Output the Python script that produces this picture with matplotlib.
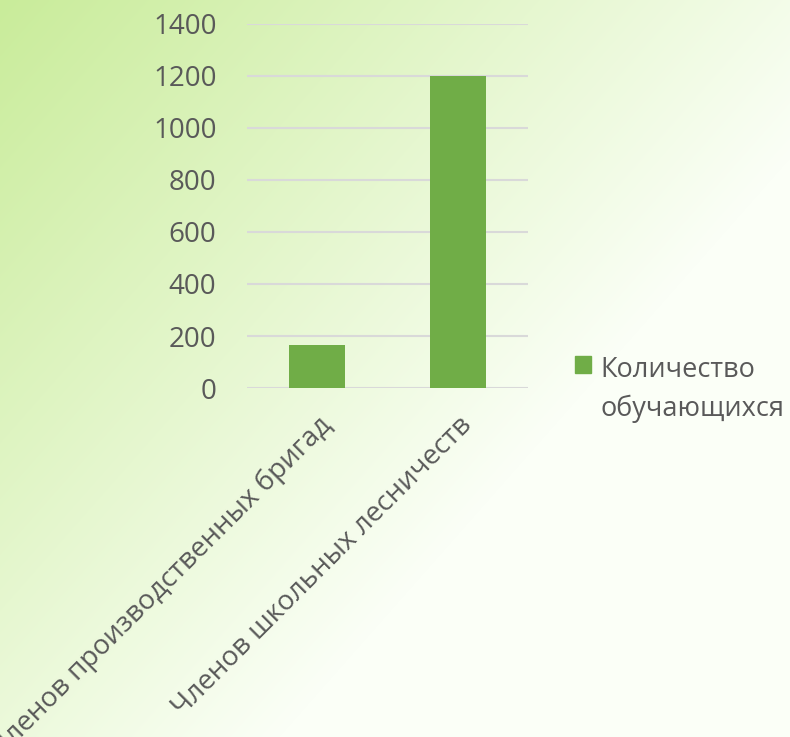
import numpy as np
import matplotlib
matplotlib.use("Agg")
from matplotlib import pyplot as plt
from matplotlib.patches import Patch

categories = ['Членов производственных бригад', 'Членов школьных лесничеств']
values = [165, 1200]
series_name = 'Количество\nобучающихся'
yticks = [0, 200, 400, 600, 800, 1000, 1200, 1400]

plt.rcParams['font.family'] = ['Open Sans', 'DejaVu Sans']
txt = '#595959'

fig = plt.figure(figsize=(7.9, 7.37), dpi=100)

# soft green gradient background
bg = fig.add_axes([0, 0, 1, 1], zorder=-10)
h, w = 737, 790
yy, xx = np.mgrid[0:h, 0:w]
wt = np.clip(1 - 0.85 * xx / w - 0.7 * yy / h, 0, 1)[..., None]
green = np.array([201, 236, 154]) / 255
white = np.array([251, 255, 247]) / 255
img = white + (green - white) * wt
bg.imshow(img, aspect='auto', extent=[0, 1, 0, 1], origin='upper')
bg.axis('off')

ax = fig.add_axes([247 / 790, 1 - 388 / 737, 281 / 790, 364 / 737])
ax.patch.set_alpha(0)
x = np.arange(len(categories))
ax.bar(x, values, width=0.4, color='#70ad47', zorder=3)
ax.set_xlim(-0.5, 1.5)
ax.set_ylim(0, 1400)
ax.set_yticks(yticks)
ax.yaxis.grid(True, color='#d9d9d9', linewidth=1.5, zorder=0)
for s in ax.spines.values():
    s.set_visible(False)
ax.tick_params(axis='both', length=0, labelsize=20, colors=txt)
ax.tick_params(axis='y', pad=22)
ax.tick_params(axis='x', pad=17)
ax.set_xticks(x)
ax.set_xticklabels(categories, rotation=45, ha='right', rotation_mode='anchor', va='top')

leg = fig.legend(handles=[Patch(color='#70ad47', label=series_name)],
                 loc='upper left', bbox_to_anchor=(564 / 790, 1 - 345 / 737),
                 frameon=False, fontsize=19.5, handlelength=0.6, handleheight=0.6,
                 handletextpad=0.35, labelcolor=txt, borderaxespad=0)
leg.get_texts()[0].set_linespacing(1.5)
# square next to the first line, like the original
for row in leg._legend_handle_box.get_children():
    for pk in row.get_children():
        pk.align = 'top'

fig.savefig('out.png', dpi=100)
